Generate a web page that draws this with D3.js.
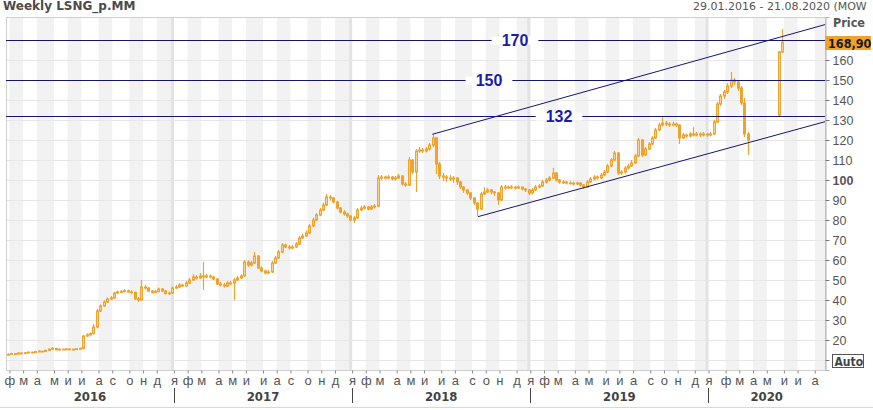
<!DOCTYPE html>
<html>
<head>
<meta charset="utf-8">
<script src="https://cdn.jsdelivr.net/npm/d3@7"></script>
<style>
html, body { margin: 0; padding: 0; background: #fff; }
svg { display: block; font-family: "DejaVu Sans Condensed", "DejaVu Sans", sans-serif; }
</style>
</head>
<body>
<div id="chart"></div>
<script>
// one bar per week, first bar 29.01.2016, axis runs to 21.08.2020
var startDate = new Date(2016, 0, 29);
var weekCount = 239;

var monthLetters = ["я", "ф", "м", "а", "м", "и", "и", "а", "с", "о", "н", "д"];
var priceTicks = d3.range(10, 180, 10);
// 10 sits under the Auto box and 170 under the last-price badge
var hiddenTickLabels = [10, 170];

// weekly OHLC
var open2016 = [12.5,12.8,13.2,13.0,13.5,13.3,13.6,13.9,13.7,14.2,14.4,14.2,14.8,15.4,15.8,15.1,15.4,15.3,15.5,15.4,15.3,15.6,15.8,22.0,22.6,23.2,26.5,34.5,37.0,39.0,40.5,41.0,43.5,44.0,44.2,44.6,44.0,43.8,40.5,40.0,46.5,46.0,44.5,43.8,44.2,45.5,44.5,43.2,43.5];
var high2016 = [13.3,13.6,13.5,13.9,13.8,14.0,14.3,14.2,14.6,14.9,14.6,15.2,15.8,16.5,16.0,15.8,15.7,15.9,15.8,15.7,16.0,16.2,22.5,23.4,23.8,28.0,35.5,37.8,39.8,41.2,42.0,44.2,44.8,45.0,45.5,45.2,44.8,44.2,41.5,50.0,47.5,46.5,45.0,45.0,46.2,46.0,45.0,44.2,46.8];
var low2016 = [12.3,12.6,12.7,12.8,13.0,13.1,13.4,13.4,13.5,14.0,13.9,14.0,14.6,15.1,14.8,14.9,15.0,15.0,15.1,14.9,15.1,15.4,15.6,21.5,22.2,22.8,25.8,34.0,36.5,38.5,40.0,40.6,43.0,43.5,43.8,43.6,43.2,40.0,39.0,39.8,45.2,44.0,43.2,43.5,43.8,44.0,42.8,42.5,43.0];
var close2016 = [12.8,13.2,13.0,13.5,13.3,13.6,13.9,13.7,14.2,14.4,14.2,14.8,15.4,15.8,15.1,15.4,15.3,15.5,15.4,15.3,15.6,15.8,22.0,22.6,23.2,26.5,34.5,37.0,39.0,40.5,41.0,43.5,44.0,44.2,44.6,44.0,43.8,40.5,40.0,46.5,46.0,44.5,43.8,44.2,45.5,44.5,43.2,43.5,46.0];

var open2017 = [46.0,46.5,47.5,47.0,48.5,50.0,51.5,51.0,52.0,51.5,52.0,51.5,50.5,48.0,47.5,47.0,48.5,48.5,50.0,51.0,52.0,59.0,57.5,58.5,62.0,56.0,54.5,53.5,54.0,58.5,61.0,64.0,67.5,66.5,66.0,66.5,68.0,71.0,72.0,73.5,77.0,80.0,82.5,85.0,87.5,91.5,91.0,89.0,86.0,84.0,83.0,82.0];
var high2017 = [47.5,48.5,48.2,49.5,51.0,52.8,52.5,53.5,59.0,53.0,52.8,52.2,51.0,49.0,48.5,49.5,49.6,51.0,52.0,53.0,60.0,59.8,59.5,64.0,62.5,56.8,55.2,55.0,59.5,62.0,65.0,68.5,68.2,67.5,67.5,69.0,72.0,73.2,74.8,78.0,81.2,83.5,86.0,88.8,93.0,92.5,91.5,89.5,86.5,85.0,83.8,82.5];
var low2017 = [45.5,46.0,46.5,46.6,48.0,49.5,50.2,50.5,45.0,51.0,50.8,50.0,47.5,46.8,46.2,46.5,47.5,40.0,49.5,50.5,51.5,56.5,56.8,58.0,55.5,53.8,52.8,53.0,53.5,58.0,60.5,63.5,66.0,65.2,65.5,66.0,67.5,70.5,71.5,73.0,76.5,79.5,82.0,84.5,87.0,89.8,88.2,85.2,83.2,82.2,81.0,79.2];
var close2017 = [46.5,47.5,47.0,48.5,50.0,51.5,51.0,52.0,51.5,52.0,51.5,50.5,48.0,47.5,47.0,48.5,48.5,50.0,51.0,52.0,59.0,57.5,58.5,62.0,56.0,54.5,53.5,54.0,58.5,61.0,64.0,67.5,66.5,66.0,66.5,68.0,71.0,72.0,73.5,77.0,80.0,82.5,85.0,87.5,91.5,91.0,89.0,86.0,84.0,83.0,82.0,80.0];

var open2018 = [80.0,81.0,85.0,86.0,86.5,85.5,86.5,87.0,101.0,101.5,101.0,101.5,100.5,101.0,102.0,98.0,97.5,110.0,104.0,114.5,115.0,114.5,115.5,117.5,121.0,108.0,102.0,101.5,101.0,100.5,101.0,99.0,96.5,95.0,93.5,91.0,88.5,85.5,93.0,94.0,95.0,94.0,93.5,90.0,96.5,96.0,96.5,96.5,96.0,96.5,95.5,95.0];
var high2018 = [82.0,86.0,87.2,87.5,87.0,87.5,88.0,102.5,102.5,102.2,102.5,102.0,102.0,103.0,102.5,99.0,111.5,110.5,115.5,116.5,116.0,116.5,118.5,122.8,121.5,109.0,103.5,102.5,102.5,102.0,101.5,99.5,97.0,95.5,94.0,91.5,89.0,94.0,96.5,96.0,95.5,94.5,94.0,97.5,97.5,97.2,97.5,97.0,97.2,96.8,96.0,95.5];
var low2018 = [78.5,80.5,84.5,85.2,84.8,85.0,85.8,86.5,100.0,100.2,100.3,99.8,99.8,100.5,97.2,96.5,97.0,103.0,94.0,113.5,113.5,113.8,114.8,116.5,103.0,100.5,99.5,99.0,99.5,98.5,97.5,95.5,93.5,92.5,90.0,87.5,82.0,85.0,92.5,93.5,92.8,92.0,87.5,89.5,95.2,95.5,95.5,95.2,95.5,94.8,94.0,92.5];
var close2018 = [81.0,85.0,86.0,86.5,85.5,86.5,87.0,101.0,101.5,101.0,101.5,100.5,101.0,102.0,98.0,97.5,110.0,104.0,114.5,115.0,114.5,115.5,117.5,121.0,108.0,102.0,101.5,101.0,100.5,101.0,99.0,96.5,95.0,93.5,91.0,88.5,85.5,93.0,94.0,95.0,94.0,93.5,90.0,96.5,96.0,96.5,96.5,96.0,96.5,95.5,95.0,93.5];

var open2019 = [93.5,95.0,96.5,97.0,99.0,100.0,101.0,103.5,100.0,99.0,99.0,98.5,98.5,98.0,98.5,97.5,96.5,99.0,100.5,101.5,101.0,102.5,104.0,107.0,110.0,113.5,103.5,104.0,106.0,107.0,108.5,112.0,120.0,112.5,115.5,118.0,121.0,125.0,127.5,128.5,128.0,127.5,128.0,127.5,121.0,122.5,122.0,123.0,122.5,123.0,122.5,123.0];
var high2019 = [96.0,97.5,98.0,100.0,101.0,102.0,106.0,104.0,100.5,100.0,99.5,99.5,99.2,99.2,99.0,98.0,100.0,101.5,102.5,102.2,103.5,105.0,108.0,111.0,114.5,114.0,105.0,107.0,108.2,110.0,113.0,121.0,120.5,116.5,119.0,122.0,126.0,128.8,131.5,129.5,129.0,129.2,128.8,127.8,123.5,123.2,124.0,126.5,124.0,123.8,124.0,123.5];
var low2019 = [92.8,94.5,95.8,96.5,98.2,99.2,100.5,99.2,98.2,98.0,97.8,97.8,97.2,97.5,96.8,95.5,96.0,98.5,99.8,100.2,100.5,101.8,103.5,106.5,109.5,102.5,102.5,103.2,105.2,106.5,108.0,111.5,111.5,112.0,115.0,117.5,120.5,124.5,126.8,127.0,126.5,126.8,126.5,118.0,120.5,121.0,121.2,121.8,121.8,121.5,121.8,121.5];
var close2019 = [95.0,96.5,97.0,99.0,100.0,101.0,103.5,100.0,99.0,99.0,98.5,98.5,98.0,98.5,97.5,96.5,99.0,100.5,101.5,101.0,102.5,104.0,107.0,110.0,113.5,103.5,104.0,106.0,107.0,108.5,112.0,120.0,112.5,115.5,118.0,121.0,125.0,127.5,128.5,128.0,127.5,128.0,127.5,121.0,122.5,122.0,123.0,122.5,123.0,122.5,123.0,122.5];

// 2020: no bars between the March slide and the late-May jump
var open2020 = [122.5,123.0,129.0,138.0,142.0,144.0,147.0,150.0,149.0,146.0,138.5,123.0,null,null,null,null,null,null,null,null,132.5,164.0];
var high2020 = [124.0,130.0,139.0,143.0,145.0,148.5,154.0,151.0,150.0,147.0,141.0,124.0,null,null,null,null,null,null,null,null,164.5,175.5];
var low2020 = [121.8,122.5,128.5,137.0,140.5,143.0,146.0,147.5,144.5,137.5,121.5,112.5,null,null,null,null,null,null,null,null,132.0,163.5];
var close2020 = [123.0,129.0,138.0,142.0,144.0,147.0,150.0,149.0,146.0,138.5,123.0,120.0,null,null,null,null,null,null,null,null,164.0,168.9];

var lastPrice = "168,90";

// drawn levels and channel (week index, price)
var levels = [170, 150, 132];
var levelLabelX = [515, 489, 559];
var upperTrend = [[123.9, 122.85], [238.5, 177.7]];
var lowerTrend = [[137.2, 81.65], [238.5, 129.15]];

var opens = [].concat(open2016, open2017, open2018, open2019, open2020);
var highs = [].concat(high2016, high2017, high2018, high2019, high2020);
var lows = [].concat(low2016, low2017, low2018, low2019, low2020);
var closes = [].concat(close2016, close2017, close2018, close2019, close2020);

var width = 873, height = 410;
var plot = {left: 6, right: 825, top: 17, bottom: 370};

var orange = "#f0a22c";
var paleOrange = "#f7d393";
var navy = "#16166a";

var x = d3.scaleLinear().domain([-0.5, weekCount - 0.5]).range([plot.left, plot.right]);
var y = d3.scaleLinear().domain([5, 181.5]).range([plot.bottom, plot.top]);

var svg = d3.select("#chart").append("svg")
    .attr("width", width)
    .attr("height", height);

// month boundaries from the weekly dates
var weekDate = function(i) { return d3.timeDay.offset(startDate, 7 * i); };
var bounds = [];
for (var i = 1; i < weekCount; i++) {
  if (weekDate(i).getMonth() !== weekDate(i - 1).getMonth()) {
    bounds.push({i: i - 0.5, month: weekDate(i).getMonth(), year: weekDate(i).getFullYear()});
  }
}

// month stripes
var segs = [{i: -0.5, month: startDate.getMonth()}].concat(bounds);
var bg = svg.append("g");
segs.forEach(function(s, k) {
  var x0 = x(s.i);
  var x1 = k + 1 < segs.length ? x(segs[k + 1].i) : plot.right;
  if (s.month % 2 === 1) {
    bg.append("rect")
      .attr("x", x0).attr("y", plot.top)
      .attr("width", x1 - x0).attr("height", plot.bottom - plot.top)
      .attr("fill", "#f2f2f2");
  }
});
var yearBounds = bounds.filter(function(b) { return b.month === 0; });
bg.selectAll(".yb").data(yearBounds).enter().append("rect")
  .attr("x", function(d) { return x(d.i) - 3; })
  .attr("y", plot.top)
  .attr("width", 3)
  .attr("height", plot.bottom - plot.top)
  .attr("fill", "#e3e3e3");

// horizontal grid
bg.selectAll(".grid").data(priceTicks).enter().append("line")
  .attr("x1", plot.left).attr("x2", plot.right)
  .attr("y1", function(d) { return Math.round(y(d)) + 0.5; })
  .attr("y2", function(d) { return Math.round(y(d)) + 0.5; })
  .attr("stroke", "#e6e6e6");

// plot frame
svg.append("rect")
  .attr("x", plot.left + 0.5).attr("y", plot.top + 0.5)
  .attr("width", plot.right - plot.left).attr("height", plot.bottom - plot.top)
  .attr("fill", "none").attr("stroke", "#cfcfcf");
svg.append("line")
  .attr("x1", 0).attr("x2", width).attr("y1", 407.5).attr("y2", 407.5)
  .attr("stroke", "#d8d8d8");

// candles
var bars = closes.map(function(c, i) {
  return {i: i, o: opens[i], h: highs[i], l: lows[i], c: c};
}).filter(function(d) { return d.c != null; });

var candle = svg.append("g").selectAll("g").data(bars).enter().append("g");
candle.append("line")
  .attr("x1", function(d) { return Math.round(x(d.i)) + 0.5; })
  .attr("x2", function(d) { return Math.round(x(d.i)) + 0.5; })
  .attr("y1", function(d) { return y(Math.max(d.h, d.o, d.c)); })
  .attr("y2", function(d) { return y(Math.min(d.l, d.o, d.c)); })
  .attr("stroke", orange)
  .attr("stroke-width", 1.2);
candle.append("rect")
  .attr("x", function(d) { return Math.round(x(d.i)) - 0.5; })
  .attr("width", 2)
  .attr("y", function(d) { return y(Math.max(d.o, d.c)); })
  .attr("height", function(d) { return Math.max(0.8, Math.abs(y(d.o) - y(d.c))); })
  .attr("fill", function(d) { return d.c >= d.o ? paleOrange : orange; })
  .attr("stroke", orange);

// levels
var lv = svg.append("g");
levels.forEach(function(v, k) {
  var yy = Math.round(y(v)) + 0.5;
  lv.append("line")
    .attr("x1", plot.left).attr("x2", plot.right)
    .attr("y1", yy).attr("y2", yy)
    .attr("stroke", navy);
  var t = lv.append("text")
    .attr("x", levelLabelX[k]).attr("y", yy)
    .attr("dy", "0.36em")
    .attr("text-anchor", "middle")
    .attr("font-family", "'Liberation Sans', Arial, sans-serif")
    .attr("font-weight", "bold")
    .attr("font-size", 16)
    .attr("fill", "#1c1ca4")
    .text(v);
  var w = t.node().getComputedTextLength();
  lv.insert("rect", function() { return t.node(); })
    .attr("x", levelLabelX[k] - w / 2 - 10).attr("y", yy - 4)
    .attr("width", w + 20).attr("height", 8)
    .attr("fill", "#fff");
});

// channel
svg.append("clipPath").attr("id", "plotclip")
  .append("rect")
  .attr("x", plot.left).attr("y", plot.top)
  .attr("width", plot.right - plot.left + 1).attr("height", plot.bottom - plot.top);
var line = d3.line()
  .x(function(d) { return x(d[0]); })
  .y(function(d) { return y(d[1]); });
svg.append("g").attr("clip-path", "url(#plotclip)")
  .selectAll("path").data([upperTrend, lowerTrend]).enter().append("path")
  .attr("d", line)
  .attr("fill", "none")
  .attr("stroke", navy);

// price axis on the right
var yAxis = svg.append("g")
  .attr("transform", "translate(" + (plot.right + 0.5) + ",0)")
  .call(d3.axisRight(y).tickValues(priceTicks).tickSize(4).tickPadding(3)
    .tickFormat(function(d) { return hiddenTickLabels.indexOf(d) < 0 ? d : ""; }));
yAxis.select(".domain").attr("stroke", "#b0b0b0");
yAxis.selectAll(".tick line").attr("stroke", "#777");
yAxis.selectAll(".tick text")
  .attr("fill", "#555")
  .attr("font-size", 12.5)
  .attr("font-family", null)
  .attr("font-weight", function(d) { return d === 100 ? "bold" : null; });

svg.append("text")
  .attr("x", 833).attr("y", 27)
  .attr("font-size", 12.5).attr("font-weight", "bold")
  .attr("fill", "#555")
  .text("Price");

svg.append("rect")
  .attr("x", 825).attr("y", 36).attr("width", 46).attr("height", 14)
  .attr("fill", orange);
svg.append("text")
  .attr("x", 828).attr("y", 47.5)
  .attr("font-size", 12.5).attr("font-weight", "bold")
  .attr("fill", "#1a1a1a")
  .text(lastPrice);

svg.append("rect")
  .attr("x", 832.5).attr("y", 354.5).attr("width", 31).attr("height", 13)
  .attr("fill", "#fff").attr("stroke", "#555");
svg.append("text")
  .attr("x", 834.5).attr("y", 365.5)
  .attr("font-size", 12).attr("font-weight", "bold")
  .attr("fill", "#444")
  .text("Auto");

// month axis
var xAxis = svg.append("g")
  .attr("transform", "translate(0," + (plot.bottom + 0.5) + ")")
  .call(d3.axisBottom(x)
    .tickValues(bounds.map(function(b) { return b.i; }))
    .tickFormat(function(d, k) { return monthLetters[bounds[k].month]; })
    .tickSize(3).tickPadding(2));
xAxis.select(".domain").remove();
xAxis.selectAll(".tick line").attr("stroke", "#888");
xAxis.selectAll(".tick text")
  .attr("fill", "#555")
  .attr("font-size", 13)
  .attr("font-family", null);

svg.selectAll(".ysep").data(yearBounds).enter().append("line")
  .attr("x1", function(d) { return Math.round(x(d.i)) + 0.5; })
  .attr("x2", function(d) { return Math.round(x(d.i)) + 0.5; })
  .attr("y1", 388).attr("y2", 403)
  .attr("stroke", "#444");

var yearEdges = [plot.left].concat(yearBounds.map(function(b) { return x(b.i); }), [plot.right]);
var yearNames = [startDate.getFullYear()].concat(yearBounds.map(function(b) { return b.year; }));
svg.selectAll(".year").data(yearNames).enter().append("text")
  .attr("x", function(d, k) { return (yearEdges[k] + yearEdges[k + 1]) / 2; })
  .attr("y", 401)
  .attr("text-anchor", "middle")
  .attr("font-size", 13).attr("font-weight", "bold")
  .attr("fill", "#444")
  .text(function(d) { return d; });

// header
svg.append("text")
  .attr("x", 3).attr("y", 10)
  .attr("font-family", "'DejaVu Sans', sans-serif")
  .attr("font-size", 12).attr("font-weight", "bold")
  .attr("fill", "#4a4a4a")
  .text("Weekly LSNG_p.MM");
svg.append("text")
  .attr("x", 693).attr("y", 10)
  .attr("font-family", "'DejaVu Sans', sans-serif")
  .attr("font-size", 11)
  .attr("fill", "#555")
  .text("29.01.2016 - 21.08.2020 (MOW");
</script>
</body>
</html>
